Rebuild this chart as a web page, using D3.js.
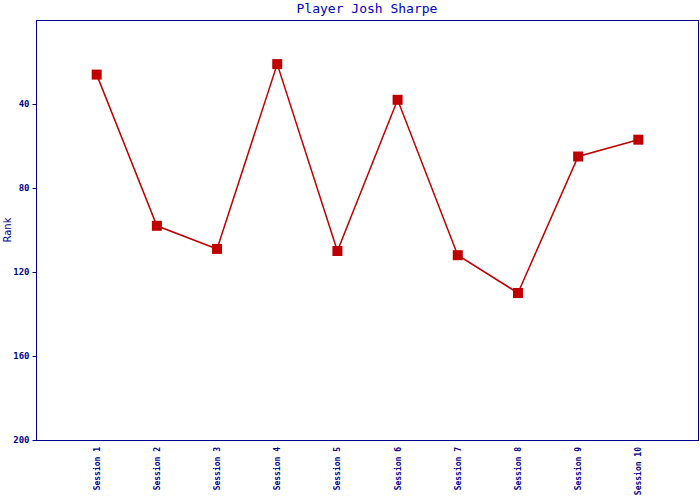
<!DOCTYPE html>
<html><head><meta charset="utf-8">
<script src="https://cdn.jsdelivr.net/npm/d3@7"></script>
<style>body{margin:0;background:#fff}</style>
</head><body>
<svg id="c" width="700" height="500"></svg>
<script>
const sessions = ["Session 1","Session 2","Session 3","Session 4","Session 5","Session 6","Session 7","Session 8","Session 9","Session 10"];
const ranks = [26, 98, 109, 21, 110, 38, 112, 130, 65, 57];
const yTicks = [40, 80, 120, 160, 200];
const title = "Player Josh Sharpe";
const yLabel = "Rank";

const svg = d3.select("#c");
const L = 36, R = 698, T = 20, B = 440;
const blue = "#00008b";
const red = "#c00000";

const x = d3.scaleLinear().domain([0, sessions.length + 1]).range([L + 0.5, R + 0.5]);
const y = d3.scaleLinear().domain([0, 200]).range([T, B]);

svg.append("text").attr("x", (L + R) / 2).attr("y", 13).attr("text-anchor", "middle")
  .attr("font-family", "DejaVu Sans Mono, monospace").attr("font-size", 13).attr("fill", "#0000c0").text(title);

svg.append("rect").attr("x", L + 0.5).attr("y", T + 0.5).attr("width", R - L).attr("height", B - T)
  .attr("fill", "none").attr("stroke", blue).attr("stroke-width", 1);

const yAxis = svg.append("g").attr("transform", `translate(${L + 0.5},0)`)
  .call(d3.axisLeft(y).tickValues(yTicks).tickSize(4).tickPadding(3));
yAxis.select(".domain").remove();
yAxis.selectAll("line").attr("stroke", blue);
yAxis.selectAll("text").attr("fill", blue).attr("font-family", "DejaVu Sans Mono, monospace")
  .attr("font-size", 9).attr("font-weight", "bold");

svg.append("text").attr("transform", `translate(11,${(T + B) / 2}) rotate(-90)`).attr("text-anchor", "middle")
  .attr("font-family", "DejaVu Sans, sans-serif").attr("font-size", 10).attr("fill", blue).text(yLabel);

svg.append("g").selectAll("text").data(sessions).join("text")
  .attr("transform", (d, i) => `translate(${x(i + 1) + 3},447) rotate(-90)`)
  .attr("text-anchor", "end").attr("font-family", "DejaVu Sans Mono, monospace")
  .attr("font-size", 8).attr("font-weight", "bold").attr("fill", blue).text(d => d);

const line = d3.line().x((d, i) => x(i + 1)).y(d => y(d));
svg.append("path").datum(ranks).attr("d", line).attr("fill", "none").attr("stroke", red).attr("stroke-width", 1.5);

svg.append("g").selectAll("rect").data(ranks).join("rect")
  .attr("x", (d, i) => x(i + 1) - 5).attr("y", d => y(d) - 5).attr("width", 10).attr("height", 10).attr("fill", red);
</script>
</body></html>
